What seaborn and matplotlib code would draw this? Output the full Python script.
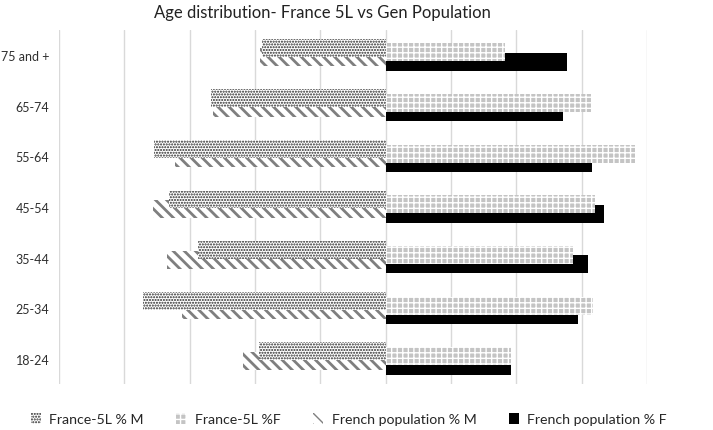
import matplotlib
matplotlib.use("Agg")
import matplotlib.pyplot as plt
import seaborn as sns
import pandas as pd
import numpy as np
from matplotlib.patches import Patch

# ---- data (bottom to top) ----
categories = ["18-24", "25-34", "35-44", "45-54", "55-64", "65-74", "75 and +"]
france5l_m = [9.7, 18.6, 14.4, 16.6, 17.7, 13.4, 9.5]
france5l_f = [9.6, 15.9, 14.3, 16.0, 19.1, 15.8, 9.1]
pop_m = [10.9, 15.6, 16.7, 17.8, 16.1, 13.2, 9.6]
pop_f = [9.6, 14.7, 15.5, 16.7, 15.8, 13.6, 13.9]
series_names = ["France-5L % M", "France-5L %F", "French population % M", "French population % F"]

sns.set_theme(style="white")
plt.rcParams["font.family"] = ["Lato", "DejaVu Sans"]

fig = plt.figure(figsize=(7.13, 4.31), dpi=100)
ax = fig.add_axes([59 / 713, 45.7 / 431, (647 - 59) / 713, (400.3 - 45.7) / 431])

bar_h = 0.355
styles = {
    # name: (values, sign, offset, face, hatch, hatchcolor, hatch linewidth)
    series_names[3]: (pop_f, 1, -0.133, "black", None, "black", 1.0),
    series_names[2]: (pop_m, -1, -0.039, "white", "\\\\\\", "#7f7f7f", 2.0),
    series_names[1]: (france5l_f, 1, 0.054, "#c4c4c4", "+++", "white", 1.0),
    series_names[0]: (france5l_m, -1, 0.148, "white", "......", "#262626", 1.0),
}


def style_patch(p, face, hatch, hcol, hlw):
    p.set_facecolor(face)
    p.set_edgecolor(hcol)
    p.set_linewidth(0)
    if hatch:
        p.set_hatch(hatch)
        if hasattr(p, "set_hatch_linewidth"):
            p.set_hatch_linewidth(hlw)
        else:
            p._hatch_linewidth = hlw


pos = np.arange(len(categories))
for z, (name, (vals, sign, off, face, hatch, hcol, hlw)) in enumerate(styles.items()):
    df = pd.DataFrame({"value": sign * np.array(vals), "pos": pos + off})
    n_before = len(ax.patches)
    with plt.rc_context({"hatch.linewidth": hlw}):
        sns.barplot(data=df, x="value", y="pos", orient="h", native_scale=True,
                    width=bar_h, color=face, errorbar=None, ax=ax, zorder=3 + z)
    for p in ax.patches[n_before:]:
        style_patch(p, face, hatch, hcol, hlw)
        p.set_zorder(3 + z)

ax.set_xlim(-25, 20)
ax.set_ylim(-0.5, 6.5)
ax.set_xticks(np.arange(-25, 21, 5))
ax.set_xticklabels([])
ax.xaxis.grid(True, color="#d9d9d9", linewidth=1)
ax.yaxis.grid(False)
ax.set_axisbelow(True)
ax.set_yticks(pos)
ax.set_yticklabels(categories, fontsize=9, color="#303030")
ax.tick_params(axis="y", length=0, pad=7)
ax.tick_params(axis="x", length=0)
ax.set_xlabel("")
ax.set_ylabel("")
for s in ax.spines.values():
    s.set_visible(False)

fig.text(322 / 713, 1 - 13 / 431, "Age distribution- France 5L vs Gen Population",
         ha="center", va="center", fontsize=12, color="#222222")

handles = []
for name in series_names:
    vals, sign, off, face, hatch, hcol, hlw = styles[name]
    with plt.rc_context({"hatch.linewidth": hlw}):
        h = Patch(facecolor=face, edgecolor=hcol, hatch=hatch, linewidth=0)
    style_patch(h, face, hatch, hcol, hlw)
    handles.append(h)
fig.legend(handles, series_names, loc="center", bbox_to_anchor=(349 / 713, 1 - 420 / 431),
           ncol=4, frameon=False, fontsize=10.2, handlelength=0.7, handleheight=0.9,
           handletextpad=0.6, columnspacing=2.3)

fig.savefig("out.png", dpi=100)
